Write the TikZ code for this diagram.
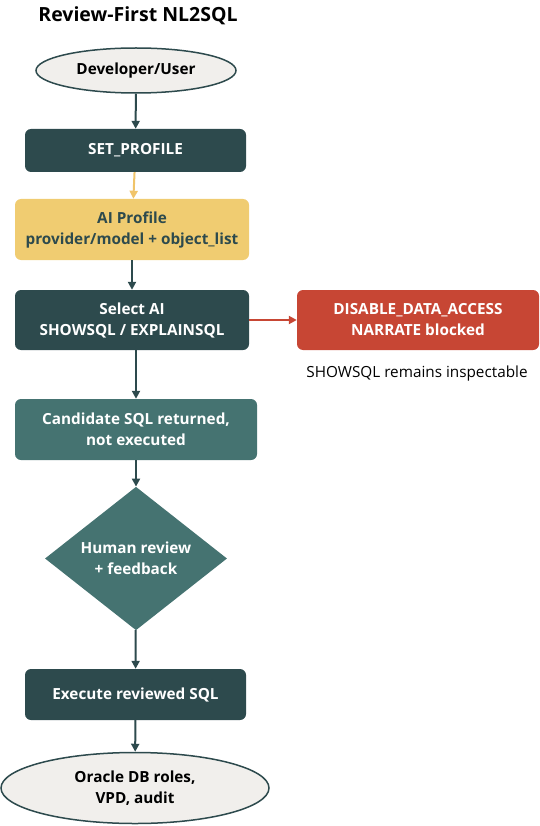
\documentclass[tikz,border=0pt]{standalone}
\usepackage{fontspec}
\setmainfont{Open Sans}
\usetikzlibrary{shapes.geometric,arrows.meta}
\definecolor{darkteal}{HTML}{2D4A4D}
\definecolor{midteal}{HTML}{457371}
\definecolor{ayellow}{HTML}{F0CC71}
\definecolor{ared}{HTML}{C74634}
\definecolor{lgray}{HTML}{F1EFEC}
\definecolor{yarrow}{HTML}{F0C46A}
\tikzset{
  every node/.style={font=\fontsize{15.3}{21}\selectfont\bfseries, align=center, inner sep=0pt},
  darkbox/.style={draw=none, fill=darkteal, text=white, rounded corners=6pt, minimum height=#1},
  yelbox/.style={fill=ayellow, text=darkteal!60!black, rounded corners=6pt},
  midbox/.style={fill=midteal, text=white, rounded corners=6pt},
  redbox/.style={fill=ared, text=white, rounded corners=6pt},
  term/.style={ellipse, draw=darkteal, line width=1.5pt, fill=lgray, text=black},
  dec/.style={diamond, fill=midteal, text=white},
  arr/.style={-{Triangle[length=8pt,width=8pt]}, line width=2pt, draw=darkteal},
  yarr/.style={arr, draw=yarrow},
  rarr/.style={arr, draw=ared},
}
\begin{document}
\begin{tikzpicture}[x=1pt,y=-1pt]
\useasboundingbox (0,0) rectangle (539,826);
\node[font=\fontsize{19.5}{22}\selectfont\bfseries, text=black] (title) at (138,16) {Review-First NL2SQL};
\node[term, minimum width=200pt, minimum height=45pt] (dev) at (136,70.5) {Developer/User};
\node[darkbox=43pt, minimum width=221pt] (set) at (135.5,150.5) {SET\_PROFILE};
\node[yelbox, minimum width=234pt, minimum height=61pt, text=darkteal] (prof) at (132,229.5) {AI Profile\\provider/model + object\_list};
\node[darkbox=60pt, minimum width=234pt] (sel) at (132,320) {Select AI\\SHOWSQL / EXPLAINSQL};
\node[redbox, minimum width=242pt, minimum height=60pt] (dis) at (418,320) {DISABLE\_DATA\_ACCESS\\NARRATE blocked};
\node[font=\fontsize{15.3}{18}\selectfont, text=black] (note) at (417,374) {SHOWSQL remains inspectable};
\node[midbox, minimum width=242pt, minimum height=61pt] (cand) at (136,429.5) {Candidate SQL returned,\\not executed};
\node[dec, minimum width=182pt, minimum height=141pt] (rev) at (136,558.5) {Human review\\+ feedback};
\node[darkbox=51pt, minimum width=221pt] (exe) at (135.5,694.5) {Execute reviewed SQL};
\node[term, minimum width=268pt, minimum height=71pt] (db) at (135,788) {Oracle DB roles,\\VPD, audit};
\draw[arr] (dev) -- (set);
\draw[yarr] (set) -- (prof);
\draw[arr] (prof) -- (sel);
\draw[rarr] (sel) -- (dis);
\draw[arr] (sel.south -| cand.north) -- (cand);
\draw[arr] (cand) -- (rev);
\draw[arr] (rev) -- (exe);
\draw[arr] (exe) -- (db);
\end{tikzpicture}
\end{document}
